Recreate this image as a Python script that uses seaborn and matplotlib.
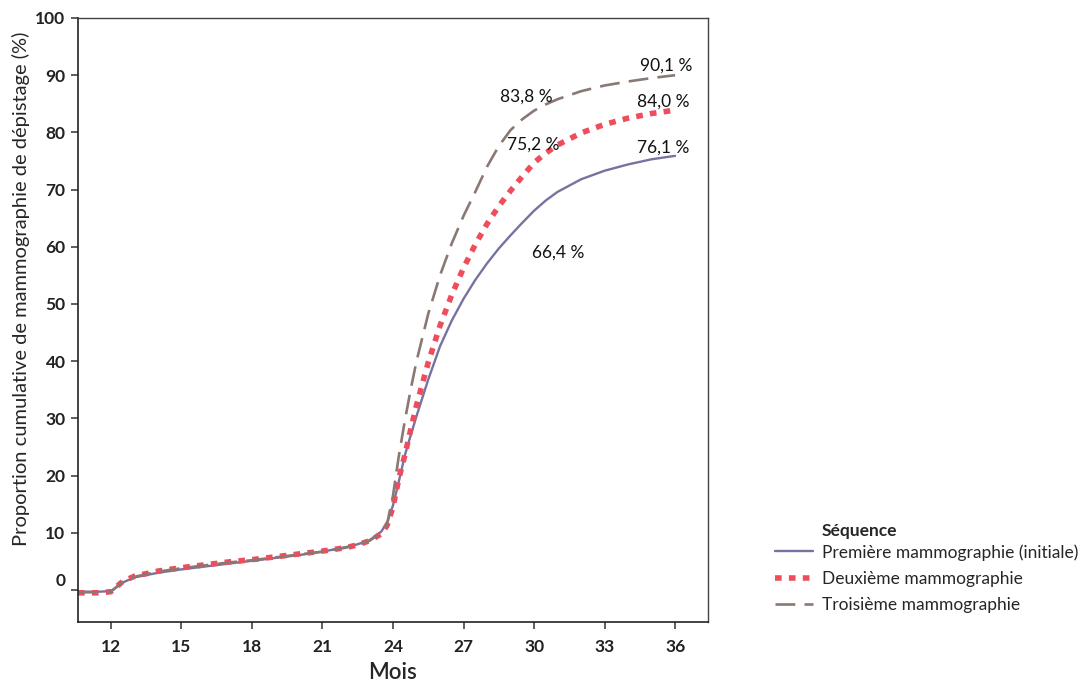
import matplotlib
matplotlib.use("Agg")
import matplotlib.pyplot as plt
import matplotlib.transforms as mtransforms
from matplotlib.lines import Line2D
import seaborn as sns
import pandas as pd

# ---- data ----
months = [10.6, 11, 11.5, 12, 12.5, 13, 14, 15, 16, 17, 18, 19, 20, 21, 22, 22.5,
          23, 23.5, 23.75, 24, 24.25, 24.5, 24.75, 25, 25.5, 26, 26.5, 27, 27.5,
          28, 28.5, 29, 29.5, 30, 30.5, 31, 32, 33, 34, 35, 36]

premiere = [-0.3, -0.3, -0.3, -0.2, 1.3, 2.2, 3.0, 3.6, 4.1, 4.6, 5.1, 5.6, 6.1, 6.7,
            7.5, 8.0, 8.7, 10.2, 11.8, 14.8, 19.0, 23.5, 27.0, 30.4, 36.8, 42.6,
            47.1, 50.9, 54.2, 57.1, 59.7, 62.0, 64.2, 66.3, 68.1, 69.6, 71.8, 73.3,
            74.4, 75.3, 75.9]

deuxieme = [-0.5, -0.5, -0.5, -0.3, 1.5, 2.4, 3.3, 3.9, 4.4, 4.9, 5.3, 5.8, 6.3, 6.8,
            7.4, 7.9, 8.6, 9.8, 11.3, 14.5, 19.5, 23.5, 28.0, 32.3, 39.8, 46.2,
            51.6, 56.3, 60.4, 64.0, 67.1, 69.8, 72.3, 74.7, 76.4, 77.8, 79.9, 81.4,
            82.5, 83.3, 83.9]

troisieme = [-0.4, -0.4, -0.4, -0.3, 1.4, 2.3, 3.2, 3.8, 4.3, 4.8, 5.2, 5.7, 6.2, 6.7,
             7.4, 7.9, 8.6, 10.0, 11.5, 16.5, 23.5, 29.5, 35.0, 40.0, 48.3, 55.0,
             60.6, 65.4, 69.6, 74.0, 77.6, 80.4, 82.3, 83.8, 84.9, 85.8, 87.2, 88.2,
             88.9, 89.5, 90.0]

series_names = ["Première mammographie (initiale)", "Deuxième mammographie",
                "Troisième mammographie"]

annot_text = ["90,1 %", "84,0 %", "76,1 %", "83,8 %", "75,2 %", "66,4 %"]
annot_x = [34.5, 34.4, 34.4, 28.55, 28.85, 29.9]
annot_y = [91.6, 85.3, 77.4, 86.2, 77.8, 58.9]

x_ticks = [12, 15, 18, 21, 24, 27, 30, 33, 36]
y_ticks = [0, 10, 20, 30, 40, 50, 60, 70, 80, 90, 100]

# ---- style ----
sns.set_style("ticks")
plt.rcParams['font.family'] = ['Lato', 'DejaVu Sans']

colors = ["#77729f", "#ef4c5c", "#8a7872"]
widths = [1.7, 4.0, 1.9]
dashes = [(None, None), (1.2, 1.3), (7.5, 3.5)]

fig = plt.figure(figsize=(10.89, 6.83), dpi=100)
ax = fig.add_axes([78/1089, 1 - 622/683, (708-78)/1089, (622-18)/683])

frames = []
for name, vals in zip(series_names, [premiere, deuxieme, troisieme]):
    frames.append(pd.DataFrame({"Mois": months, "val": vals, "Séquence": name}))
df = pd.concat(frames, ignore_index=True)

handles = []
for name, c, lw, d in zip(series_names, colors, widths, dashes):
    sub = df[df["Séquence"] == name]
    sns.lineplot(data=sub, x="Mois", y="val", ax=ax, color=c, linewidth=lw,
                 legend=False, estimator=None, sort=False)
    line = ax.lines[-1]
    line.set_solid_joinstyle("round")
    if d[0] is not None:
        line.set_dashes(d)
        line.set_dash_capstyle("butt")
    h = Line2D([0], [0], color=c, linewidth=lw)
    if d[0] is not None:
        h.set_dashes(d)
    handles.append(h)

for t, x, y in zip(annot_text, annot_x, annot_y):
    ax.text(x, y, t, fontsize=12.5, ha="left", va="center", color="#111111")

ax.set_xlim(10.6, 37.4)
ax.set_ylim(-5.6, 100)
ax.set_xticks(x_ticks)
ax.set_yticks(y_ticks)
ax.set_xticklabels([str(v) for v in x_ticks], fontsize=12.5, fontweight="bold", color="#222222")
ax.set_yticklabels([str(v) for v in y_ticks], fontsize=12.5, fontweight="bold", color="#222222")
ax.tick_params(axis="both", length=5, width=1.1, color="#333333", pad=4)
ax.tick_params(axis="x", pad=7)

for s in ax.spines.values():
    s.set_visible(True)
    s.set_linewidth(1.2)
    s.set_color("#222222")
for s in ["top", "right"]:
    ax.spines[s].set_linewidth(1.0)
    ax.spines[s].set_color("#444444")

# the "0" label sits slightly above its tick in the reference
zero_lab = ax.get_yticklabels()[0]
zero_lab.set_transform(zero_lab.get_transform() +
                       mtransforms.ScaledTranslation(0, 10/100, fig.dpi_scale_trans))

ax.set_xlabel("Mois", fontsize=16, labelpad=5, fontweight="semibold")
ax.set_ylabel("Proportion cumulative de mammographie de dépistage (%)", fontsize=14.5)
ax.yaxis.set_label_coords(-0.076, 0.551)

# legend title (aligned with the labels, not the handles)
fig.text(822/1089, 1 - 531/683, "Séquence", fontsize=12.5, fontweight="bold",
         ha="left", va="center")
leg = fig.legend(handles, series_names, loc="upper left",
                 bbox_to_anchor=(775/1089, 1 - 544/683), frameon=False,
                 fontsize=12.5, handlelength=2.2, borderpad=0, borderaxespad=0,
                 handletextpad=0.5, labelspacing=0.6)

fig.savefig("out.png", dpi=100)
